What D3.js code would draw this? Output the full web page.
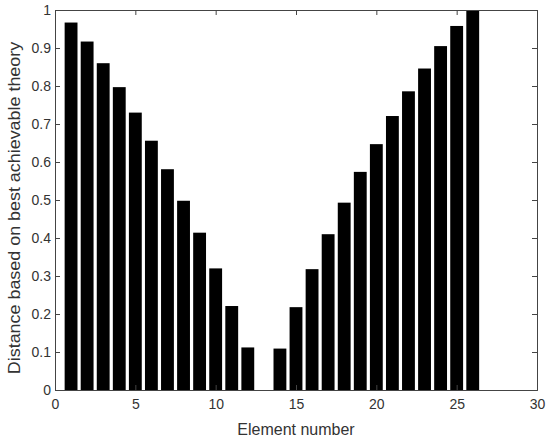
<!DOCTYPE html>
<html><head><meta charset="utf-8">
<script src="https://cdn.jsdelivr.net/npm/d3@7"></script>
<style>body{margin:0;background:#fff}text{font-family:"Liberation Sans",Arial,sans-serif}</style>
</head><body>
<svg id="c" width="550" height="442"></svg>
<script>
const elements = d3.range(1, 27);
const distances = [0.967,0.917,0.860,0.797,0.730,0.656,0.581,0.498,0.414,0.320,0.221,0.112,0,
  0.109,0.218,0.318,0.410,0.493,0.574,0.647,0.721,0.786,0.846,0.905,0.958,1.0];
const xTicks = [0,5,10,15,20,25,30];
const yTicks = [0,0.1,0.2,0.3,0.4,0.5,0.6,0.7,0.8,0.9,1];
const xLabel = "Element number";
const yLabel = "Distance based on best achievable theory";

const m = {l:55, r:537, t:10, b:390};
const svg = d3.select("#c");
const x = d3.scaleLinear().domain([0,30]).range([m.l, m.r]);
const y = d3.scaleLinear().domain([0,1]).range([m.b, m.t]);
const bw = (x(1)-x(0))*0.8;
const axCol = "#333";

svg.append("g").selectAll("rect").data(elements).join("rect")
  .attr("x", d => x(d)-bw/2)
  .attr("width", bw)
  .attr("y", (d,i) => y(distances[i]))
  .attr("height", (d,i) => y(0)-y(distances[i]))
  .attr("fill", "#000");

const tl = 5;
const gx = svg.append("g").attr("transform", `translate(0,${m.b})`)
  .call(d3.axisBottom(x).tickValues(xTicks).tickSize(-tl).tickPadding(9).tickFormat(d3.format("d")));
const gxt = svg.append("g").attr("transform", `translate(0,${m.t})`)
  .call(d3.axisTop(x).tickValues(xTicks).tickSize(-tl).tickFormat(""));
const gy = svg.append("g").attr("transform", `translate(${m.l},0)`)
  .call(d3.axisLeft(y).tickValues(yTicks).tickSize(-tl).tickPadding(4).tickFormat(d => d===0||d===1 ? d3.format("d")(d) : d3.format(".1f")(d)));
const gyr = svg.append("g").attr("transform", `translate(${m.r},0)`)
  .call(d3.axisRight(y).tickValues(yTicks).tickSize(-tl).tickFormat(""));
[gx,gxt,gy,gyr].forEach(g => {
  g.select(".domain").attr("stroke", "#444").attr("stroke-width", 1);
  g.selectAll(".tick line").attr("stroke", "#444");
  g.selectAll(".tick text").attr("fill", axCol).style("font-size","14px").style("font-family","'Liberation Sans',Arial,sans-serif");
});

svg.append("text").attr("x", (m.l+m.r)/2).attr("y", 435).attr("text-anchor","middle")
  .attr("fill", axCol).style("font-size","16px").text(xLabel);
svg.append("text").attr("transform", `translate(20,208) rotate(-90) scale(1.12,1)`).attr("text-anchor","middle")
  .attr("fill", axCol).style("font-size","16px").text(yLabel);
</script>
</body></html>
